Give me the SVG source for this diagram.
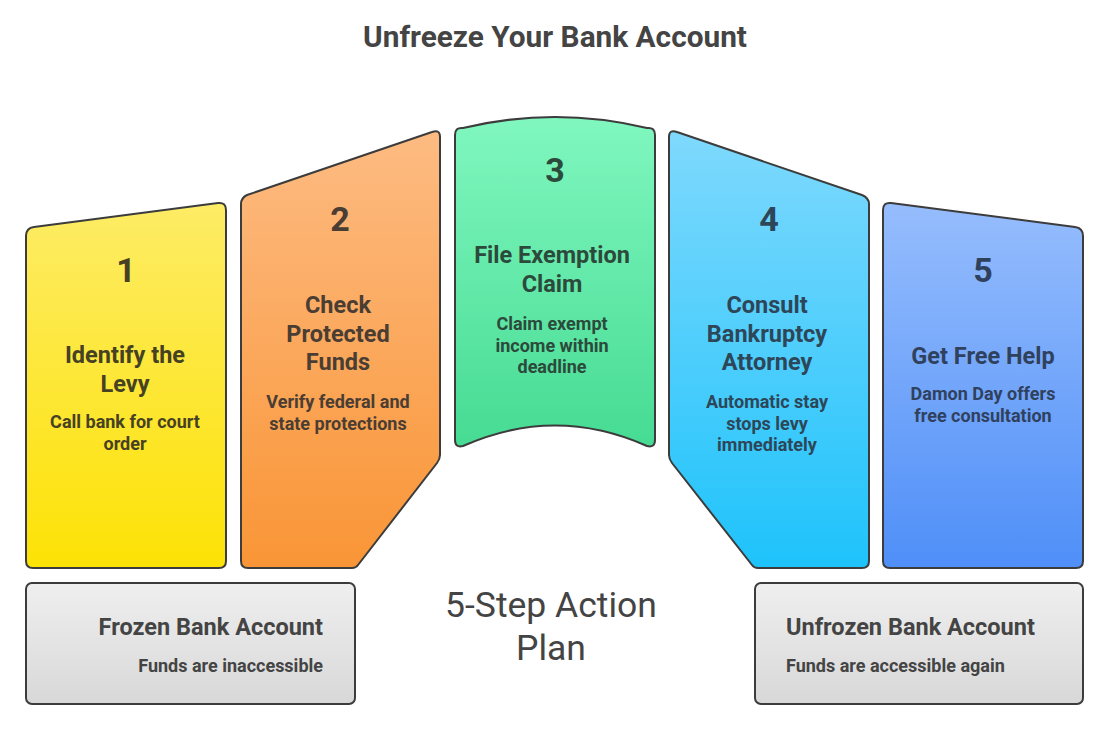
<svg xmlns="http://www.w3.org/2000/svg" width="1110" height="731" viewBox="0 0 1110 731">
<defs>
<linearGradient id="g1" x1="0" y1="0" x2="0" y2="1"><stop offset="0" stop-color="#fdec66"/><stop offset="1" stop-color="#fde205"/></linearGradient>
<linearGradient id="g2" x1="0" y1="0" x2="0" y2="1"><stop offset="0" stop-color="#fdbb82"/><stop offset="1" stop-color="#f99536"/></linearGradient>
<linearGradient id="g3" x1="0" y1="0" x2="0" y2="1"><stop offset="0" stop-color="#80f7bf"/><stop offset="1" stop-color="#46db93"/></linearGradient>
<linearGradient id="g4" x1="0" y1="0" x2="0" y2="1"><stop offset="0" stop-color="#7fd9fd"/><stop offset="1" stop-color="#1ec3fb"/></linearGradient>
<linearGradient id="g5" x1="0" y1="0" x2="0" y2="1"><stop offset="0" stop-color="#96bdfd"/><stop offset="1" stop-color="#4f8ff8"/></linearGradient>
<linearGradient id="gg" x1="0" y1="0" x2="0" y2="1"><stop offset="0" stop-color="#efefef"/><stop offset="1" stop-color="#d8d8d8"/></linearGradient>
</defs>
<style>
.card{stroke:#3c3c3c;stroke-width:2;stroke-linejoin:round}
text{font-family:Roboto,"Liberation Sans",sans-serif;font-weight:700;text-anchor:middle}
.num{font-size:34px}
.head{font-size:23.5px}
.sub{font-size:18px}
.t1{fill:#474124}.t2{fill:#4a3d33}.t3{fill:#2c4a3b}.t4{fill:#2d4658}.t5{fill:#30415e}
.gt{fill:#444}
</style>
<rect width="1110" height="731" fill="#ffffff"/>
<text x="555" y="47" font-size="29.8" fill="#444">Unfreeze Your Bank Account</text>

<g id="step1">
<path class="card" fill="url(#g1)" d="M26,236 Q26,228 34,227 L218,203 Q226,202 226,210 L226,561 Q226,568 219,568 L33,568 Q26,568 26,561 Z"/>
<text class="num t1" x="126" y="282">1</text>
<text class="head t1" x="125" y="363">Identify the</text>
<text class="head t1" x="125" y="392">Levy</text>
<text class="sub t1" x="125" y="428">Call bank for court</text>
<text class="sub t1" x="125" y="450">order</text>
</g>

<g id="step2">
<path class="card" fill="url(#g2)" d="M241,204 Q241,198 247,195 L432,132 Q440,129 440,137 L440,455 Q440,459 437,463 L358,565 Q356,568 352,568 L248,568 Q241,568 241,561 Z"/>
<text class="num t2" x="340" y="231">2</text>
<text class="head t2" x="338" y="313">Check</text>
<text class="head t2" x="338" y="342">Protected</text>
<text class="head t2" x="338" y="370">Funds</text>
<text class="sub t2" x="338" y="408">Verify federal and</text>
<text class="sub t2" x="338" y="430">state protections</text>
</g>

<g id="step3">
<path class="card" fill="url(#g3)" d="M455,135 Q455,127 463,128 Q555,106 647,128 Q655,127 655,135 L655,440 Q655,448 647,446 Q555,405 463,446 Q455,448 455,440 Z"/>
<text class="num t3" x="555" y="182">3</text>
<text class="head t3" x="552" y="263">File Exemption</text>
<text class="head t3" x="552" y="292">Claim</text>
<text class="sub t3" x="552" y="330">Claim exempt</text>
<text class="sub t3" x="552" y="352">income within</text>
<text class="sub t3" x="552" y="373">deadline</text>
</g>

<g id="step4">
<path class="card" fill="url(#g4)" d="M669,137 Q669,129 677,132 L862,195 Q869,198 869,204 L869,561 Q869,568 862,568 L758,568 Q754,568 752,565 L672,463 Q669,459 669,455 Z"/>
<text class="num t4" x="769" y="231">4</text>
<text class="head t4" x="767" y="313">Consult</text>
<text class="head t4" x="767" y="342">Bankruptcy</text>
<text class="head t4" x="767" y="370">Attorney</text>
<text class="sub t4" x="767" y="408">Automatic stay</text>
<text class="sub t4" x="767" y="430">stops levy</text>
<text class="sub t4" x="767" y="451">immediately</text>
</g>

<g id="step5">
<path class="card" fill="url(#g5)" d="M883,210 Q883,202 891,203 L1075,227 Q1083,228 1083,236 L1083,561 Q1083,568 1076,568 L890,568 Q883,568 883,561 Z"/>
<text class="num t5" x="983" y="282">5</text>
<text class="head t5" x="983" y="364">Get Free Help</text>
<text class="sub t5" x="983" y="400">Damon Day offers</text>
<text class="sub t5" x="983" y="422">free consultation</text>
</g>

<g id="frozen">
<rect class="card" x="26" y="583" width="329" height="121" rx="6" fill="url(#gg)"/>
<text class="head gt" x="323" y="635" style="text-anchor:end">Frozen Bank Account</text>
<text class="sub gt" x="323" y="672" style="text-anchor:end">Funds are inaccessible</text>
</g>

<g id="unfrozen">
<rect class="card" x="755" y="583" width="328" height="121" rx="6" fill="url(#gg)"/>
<text class="head gt" x="786" y="635" style="text-anchor:start">Unfrozen Bank Account</text>
<text class="sub gt" x="786" y="672" style="text-anchor:start">Funds are accessible again</text>
</g>

<g id="center-label">
<text x="551" y="617" font-size="35.5" style="font-weight:400" fill="#444">5-Step Action</text>
<text x="551" y="660" font-size="35.5" style="font-weight:400" fill="#444">Plan</text>
</g>

<g id="connectors"></g>
</svg>
